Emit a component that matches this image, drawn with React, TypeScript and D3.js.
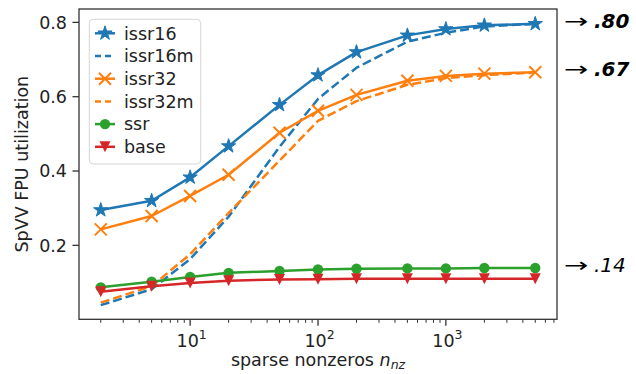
import * as d3 from "d3";
import React from "react";

// sparse nonzeros (x axis, log)
const nnz = [2, 5, 10, 20, 50, 100, 200, 500, 1000, 2000, 5000];

// SpVV FPU utilization per variant
const issr16 = [0.295, 0.32, 0.383, 0.467, 0.578, 0.658, 0.72, 0.765, 0.782, 0.792, 0.796];
const issr16m = [0.039, 0.082, 0.163, 0.277, 0.465, 0.594, 0.678, 0.748, 0.772, 0.789, 0.796];
const issr32 = [0.243, 0.279, 0.333, 0.39, 0.503, 0.562, 0.605, 0.643, 0.656, 0.662, 0.666];
const issr32m = [0.046, 0.09, 0.176, 0.287, 0.428, 0.535, 0.588, 0.632, 0.65, 0.658, 0.665];
const ssr = [0.087, 0.102, 0.115, 0.126, 0.131, 0.135, 0.137, 0.138, 0.138, 0.139, 0.139];
const base = [0.075, 0.09, 0.099, 0.105, 0.108, 0.109, 0.11, 0.11, 0.11, 0.11, 0.11];

const yTicks = [0.2, 0.4, 0.6, 0.8];
const xMajor = [10, 100, 1000];
const callouts = [
  { label: ".80", series: issr16, bold: true },
  { label: ".67", series: issr32, bold: true },
  { label: ".14", series: ssr, bold: false },
];

type Marker = "star" | "x" | "circle" | "tri" | "none";
const seriesList: { name: string; values: number[]; color: string; dashed: boolean; marker: Marker }[] = [
  { name: "issr16", values: issr16, color: "#1f77b4", dashed: false, marker: "star" },
  { name: "issr16m", values: issr16m, color: "#1f77b4", dashed: true, marker: "none" },
  { name: "issr32", values: issr32, color: "#ff7f0e", dashed: false, marker: "x" },
  { name: "issr32m", values: issr32m, color: "#ff7f0e", dashed: true, marker: "none" },
  { name: "ssr", values: ssr, color: "#2ca02c", dashed: false, marker: "circle" },
  { name: "base", values: base, color: "#d62728", dashed: false, marker: "tri" },
];

const W = 636, H = 374;
const m = { l: 79, r: 557, t: 9, b: 319.3 };
const font = "'DejaVu Sans', sans-serif";

const starPath = (r: number) => {
  const pts: [number, number][] = [];
  for (let i = 0; i < 10; i++) {
    const a = -Math.PI / 2 + (i * Math.PI) / 5;
    const rr = i % 2 ? r * 0.382 : r;
    pts.push([rr * Math.cos(a), rr * Math.sin(a)]);
  }
  return "M" + pts.map((p) => p.join(",")).join("L") + "Z";
};

const MarkerShape = ({ kind, color, cx, cy }: { kind: Marker; color: string; cx: number; cy: number }) => {
  const t = `translate(${cx},${cy})`;
  if (kind === "star") return <path transform={t} d={starPath(7.5)} fill={color} stroke={color} strokeWidth={1} />;
  if (kind === "circle") return <circle cx={cx} cy={cy} r={5.2} fill={color} />;
  if (kind === "tri") return <path transform={t} d="M0,5.5L-5.5,-5.5L5.5,-5.5Z" fill={color} />;
  if (kind === "x")
    return <path transform={t} d="M-6,-6L6,6M-6,6L6,-6" stroke={color} strokeWidth={2} fill="none" />;
  return null;
};

const App: React.FC = () => {
  const x = d3.scaleLog().domain([Math.pow(10, 0.131), Math.pow(10, 3.869)]).range([m.l, m.r]);
  const y = d3.scaleLinear().domain([0.001, 0.836]).range([m.b, m.t]);
  const minor = x.ticks().filter((v) => !xMajor.includes(v));
  const line = d3.line<number>().x((_, i) => x(nnz[i])).y((d) => y(d));

  return (
    <svg width={W} height={H} style={{ position: "absolute", left: 0, top: 0, background: "#fff" }} fontFamily={font}>
      {/* series */}
      {seriesList.map((s) => (
        <g key={s.name}>
          <path d={line(s.values) || ""} fill="none" stroke={s.color} strokeWidth={2.5}
            strokeDasharray={s.dashed ? "9,4" : undefined} strokeLinejoin="round" />
          {s.values.map((v, i) => (
            <MarkerShape key={i} kind={s.marker} color={s.color} cx={x(nnz[i])} cy={y(v)} />
          ))}
        </g>
      ))}

      {/* axes frame */}
      <rect x={m.l} y={m.t} width={m.r - m.l} height={m.b - m.t} fill="none" stroke="#333" strokeWidth={1.3} />

      {/* y ticks */}
      {yTicks.map((t) => (
        <g key={t}>
          <line x1={m.l - 6.5} x2={m.l} y1={y(t)} y2={y(t)} stroke="#333" strokeWidth={1.3} />
          <text x={m.l - 12} y={y(t)} dy="0.36em" textAnchor="end" fontSize={17.5} fill="#222">{t.toFixed(1)}</text>
        </g>
      ))}

      {/* x ticks */}
      {minor.map((t) => (
        <line key={t} x1={x(t)} x2={x(t)} y1={m.b} y2={m.b + 3.5} stroke="#333" strokeWidth={1} />
      ))}
      {xMajor.map((t) => (
        <g key={t}>
          <line x1={x(t)} x2={x(t)} y1={m.b} y2={m.b + 6.5} stroke="#333" strokeWidth={1.3} />
          <text x={x(t) + 1.5} y={346.5} textAnchor="middle" fontSize={17.5} fill="#222">
            10<tspan dy={-8} fontSize={12.5}>{Math.round(Math.log10(t))}</tspan>
          </text>
        </g>
      ))}

      {/* axis labels */}
      <text x={(m.l + m.r) / 2} y={366} textAnchor="middle" fontSize={17.5} fill="#222">
        sparse nonzeros <tspan fontStyle="italic">n</tspan>
        <tspan fontStyle="italic" fontSize={12.5} dy={3}>nz</tspan>
      </text>
      <text transform={`translate(28,${(m.t + m.b) / 2}) rotate(-90)`} textAnchor="middle" fontSize={17.5} fill="#222">
        SpVV FPU utilization
      </text>

      {/* legend */}
      <rect x={89.3} y={19.3} width={111.4} height={144.7} rx={4} fill="#fff" fillOpacity={0.8} stroke="#d5d5d5" strokeWidth={1} />
      {seriesList.map((s, i) => {
        const cy = 33.3 + i * 22.7;
        return (
          <g key={s.name}>
            <line x1={95} x2={115} y1={cy} y2={cy} stroke={s.color} strokeWidth={2.5} strokeDasharray={s.dashed ? "6,4" : undefined} />
            <MarkerShape kind={s.marker} color={s.color} cx={105} cy={cy} />
            <text x={124} y={cy} dy="0.36em" fontSize={17.5} fill="#222">{s.name}</text>
          </g>
        );
      })}

      {/* right-hand call-outs */}
      {callouts.map((c) => {
        const cy = y(c.series[c.series.length - 1]) - 3;
        return (
          <g key={c.label}>
            <text transform={`translate(564,${cy}) scale(1.45,1)`} dy="0.36em" fontSize={20} fill="#000">→</text>
            <text x={594} y={cy} dy="0.36em" fontSize={20} fontStyle="italic" fontWeight={c.bold ? "bold" : "normal"} fill="#000">
              {c.label}
            </text>
          </g>
        );
      })}
    </svg>
  );
};

export default App;
